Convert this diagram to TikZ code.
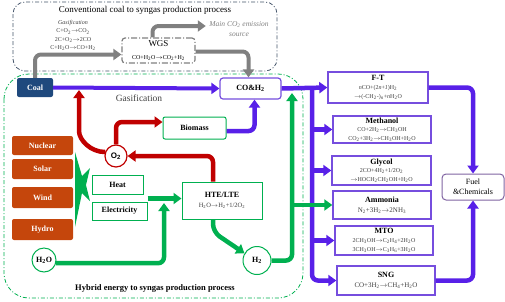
\documentclass[tikz,border=0pt]{standalone}
\usepackage{fontspec}
\setmainfont{Liberation Serif}
\newfontfamily\arialf{Liberation Sans}
\usetikzlibrary{arrows.meta,shapes.geometric}
\newcommand{\sbs}[1]{\textsubscript{#1}}
\newcommand{\rar}{\ensuremath{\rightarrow}}
\newcommand{\ptitle}{\fontsize{8}{9}\selectfont\bfseries\color{black}}
\definecolor{pur}{RGB}{88,32,232}
\definecolor{purb}{RGB}{118,78,222}
\definecolor{grn}{RGB}{0,176,80}
\definecolor{redc}{RGB}{192,0,0}
\definecolor{orgc}{RGB}{197,70,12}
\definecolor{coalc}{RGB}{31,73,125}
\definecolor{gryc}{RGB}{128,128,128}
\definecolor{slatec}{RGB}{68,84,106}
\definecolor{fuelc}{RGB}{128,100,162}
\definecolor{txtg}{RGB}{64,64,64}
\tikzset{
  arr/.style={line width=4.5pt, -{Triangle[width=11pt,length=8pt]}, rounded corners=6pt},
  parr/.style={arr, draw=pur},
  rarr/.style={arr, draw=redc},
  garr/.style={arr, draw=grn},
  gyarr/.style={arr, line width=4pt, draw=gryc},
  gbox/.style={draw=grn, line width=1pt, fill=white, font=\fontsize{8}{9}\selectfont\bfseries, inner sep=1pt},
  obox/.style={fill=orgc, rounded corners=2pt, text=white, font=\fontsize{8}{9}\selectfont\bfseries, minimum width=61pt},
  prod/.style={draw=purb, line width=1.4pt, fill=white, align=center, inner sep=1pt, font=\fontsize{6}{8.6}\selectfont\color{txtg}},
  bound/.style={line width=0.8pt, dash pattern=on 4pt off 2pt on 1pt off 2pt},
}
\begin{document}
\begin{tikzpicture}[x=1pt,y=-1pt]
\useasboundingbox (0,0) rectangle (505,301);
% regions
\draw[bound, slatec, rounded corners=12pt] (13,2) rectangle (277,71);
\draw[bound, grn, rounded corners=25pt] (4,74) rectangle (303,298);
\node[font=\fontsize{9}{10}\selectfont] (t1) at (145,10) {Conventional coal to syngas production process};
\node[font=\fontsize{8.5}{10}\selectfont\bfseries] (t2) at (155,288) {Hybrid energy to syngas production process};
\node[align=center, text=txtg, font=\fontsize{6}{8.4}\selectfont] (gasr) at (73,35.5)
  {\textit{Gasification}\\C+O\sbs2\rar CO\sbs2\\2C+O\sbs2\rar 2CO\\C+H\sbs2O\rar CO+H\sbs2};
\node[draw=gryc, line width=1.2pt, dash pattern=on 6pt off 2pt on 1pt off 2pt, rounded corners=3pt,
  minimum width=73pt, minimum height=25pt, align=center, inner sep=1pt] (wgs) at (158.5,50.5)
  {{\fontsize{9}{10}\selectfont WGS}\\[1pt]{\fontsize{6}{7}\selectfont CO+H\sbs2O\rar CO\sbs2+H\sbs2}};
\node[align=center, text=gryc, font=\fontsize{7.5}{10}\selectfont\itshape] (co2) at (239,29)
  {Main CO\sbs2 emission\\source};
% main nodes
\node[fill=coalc, rounded corners=2pt, text=white, font=\fontsize{8}{9}\selectfont\bfseries,
  minimum width=36pt, minimum height=19pt] (coal) at (35,87.5) {Coal};
\node[draw=purb, line width=1.2pt, rounded corners=3pt, fill=white, font=\fontsize{8}{9}\selectfont\bfseries,
  minimum width=61pt, minimum height=21pt] (coh) at (250.5,88.5) {CO\&H\sbs2};
\node[text=txtg, font=\fontsize{9.5}{10}\selectfont] (gasl) at (139,98) {Gasification};
\node[gbox, rounded corners=2pt, minimum width=63pt, minimum height=22pt] (bio) at (194.5,128) {Biomass};
\node[circle, draw=redc, line width=1.2pt, fill=white, minimum size=22pt, inner sep=0pt,
  font=\arialf\fontsize{8}{9}\selectfont\bfseries] (o2) at (116,156) {O\sbs2};
\node[obox, minimum height=19pt] (nuc) at (42.5,145.5) {Nuclear};
\node[obox, minimum height=20pt] (sol) at (42.5,169) {Solar};
\node[obox, minimum height=21pt] (wind) at (42.5,197.5) {Wind};
\node[obox, minimum height=21pt] (hyd) at (42.5,229.5) {Hydro};
\node[gbox, minimum width=51pt, minimum height=19pt] (heat) at (117.5,184.5) {Heat};
\node[gbox, minimum width=55pt, minimum height=18pt] (elec) at (119.5,211) {Electricity};
\node[gbox, minimum width=80pt, minimum height=37pt, align=center] (hte) at (222,200.5)
  {HTE/LTE\\[1pt]{\mdseries\color{txtg}\fontsize{6.5}{8}\selectfont H\sbs2O\rar H\sbs2+1/2O\sbs2}};
\node[circle, draw=grn, line width=1pt, fill=white, minimum size=24pt, inner sep=0pt,
  font=\fontsize{8}{9}\selectfont\bfseries] (h2o) at (44,260) {H\sbs2O};
\node[circle, draw=grn, line width=1pt, fill=white, minimum size=28pt, inner sep=0pt,
  font=\fontsize{8}{9}\selectfont\bfseries] (h2) at (257,260.5) {H\sbs2};
% wedge
\fill[grn] (75,152) -- (82,176) -- (90,168) -- (86,185) -- (90,201) -- (82,193) -- (75,227) -- cycle;
% products
\node[prod, minimum width=100pt, minimum height=31pt] (ft) at (378,87.5)
  {{\ptitle F-T}\\\textit{n}CO+(2\textit{n}+\textit{1})H\sbs2\\\rar(-CH\sbs2-)\sbs{\textit{n}}+\textit{n}H\sbs2O};
\node[prod, minimum width=98pt, minimum height=27pt] (meth) at (382,129.5)
  {{\ptitle Methanol}\\CO+2H\sbs2\rar CH\sbs3OH\\CO\sbs2+3H\sbs2\rar CH\sbs3OH+H\sbs2O};
\node[prod, minimum width=99pt, minimum height=29pt] (gly) at (381.5,170.5)
  {{\ptitle Glycol}\\2CO+4H\sbs2+1/2O\sbs2\\\rar HOCH\sbs2CH\sbs2OH+H\sbs2O};
\node[prod, minimum width=98pt, minimum height=28pt] (amm) at (382,205)
  {{\ptitle Ammonia}\\[1pt]{\fontsize{7}{8}\selectfont N\sbs2+3H\sbs2\rar 2NH\sbs3}};
\node[prod, minimum width=98pt, minimum height=29pt] (mto) at (384,240.5)
  {{\ptitle MTO}\\2CH\sbs3OH\rar C\sbs2H\sbs4+2H\sbs2O\\3CH\sbs3OH\rar C\sbs3H\sbs6+3H\sbs2O};
\node[prod, minimum width=98pt, minimum height=29pt] (sng) at (386,280.5)
  {{\ptitle SNG}\\[1pt]{\fontsize{7}{8}\selectfont CO+3H\sbs2\rar CH\sbs4+H\sbs2O}};
\node[draw=fuelc, line width=1pt, rounded corners=4pt, fill=white, align=center,
  font=\fontsize{8}{10}\selectfont, minimum width=62pt, minimum height=26pt, inner sep=1pt] (fuel) at (473,187)
  {Fuel\\\&Chemicals};
% coordinates
\coordinate (gaspt) at (79,90);
\coordinate (mix) at (164,203);
\coordinate (gup) at (292,93);
\coordinate (gbr) at (292,205);
\coordinate (bartop) at (312,88.5);
% gray arrows
\draw[gyarr] (coal.north) |- ([yshift=-4pt]wgs.west);
\draw[gyarr] ([xshift=-6pt]wgs.north) |- (co2.west |- 0,26);
\draw[gyarr] ([yshift=-1pt]wgs.east) -| ([xshift=-2pt]coh.north);
% purple
\draw[parr, line width=4pt] (coal.east) -- (coh.west);
\draw[parr] ([yshift=-3pt]bio.east) -| ([xshift=4pt]coh.south);
\draw[parr] (coh.east) -- (ft.west);
\draw[parr] (bartop) |- (sng.west);
\draw[parr] (bartop |- meth.west) -- (meth.west);
\draw[parr] (bartop |- gly.west) -- (gly.west);
\draw[parr] (bartop |- mto.west) -- (mto.west);
\draw[parr] (ft.east) -| (fuel.north);
\draw[parr] (sng.east) -| (fuel.south);
% red
\draw[rarr] (o2.160) to[out=180,in=-90] (79,125) -- (gaspt);
\draw[rarr] (o2.north) |- ([yshift=6pt]bio.west);
\draw[rarr] ([xshift=-9pt]hte.north) |- (o2.east);
% green
\draw[garr] ([yshift=3pt]elec.north east) -- ([yshift=3pt]elec.north east -| hte.west);
\draw[garr] (h2o.-15) -| (mix);
\draw[garr, rounded corners=8pt] ([xshift=-9pt]hte.south) -- (213,232) -- (h2.150);
\draw[garr] (h2.east) -| (gup);
\draw[garr] (gbr) -- (amm.west);
\end{tikzpicture}
\end{document}
